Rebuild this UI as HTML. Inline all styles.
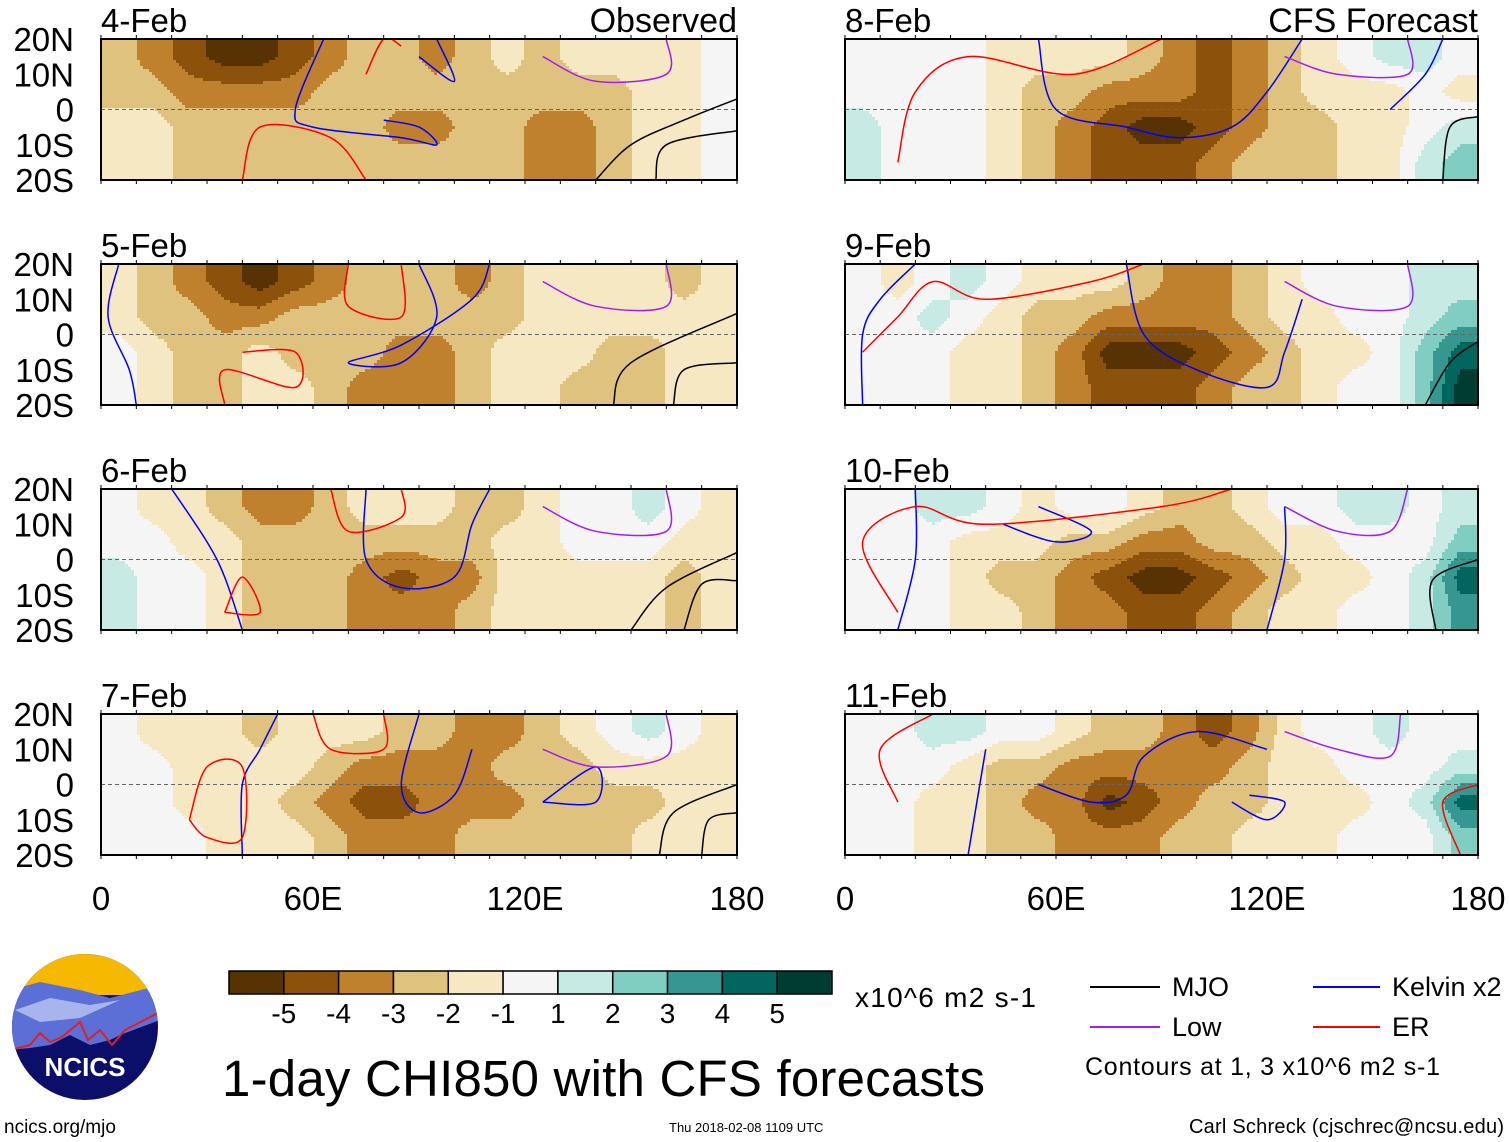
<!DOCTYPE html>
<html><head><meta charset="utf-8"><style>
body{margin:0;background:#fff;width:1510px;height:1142px;overflow:hidden;font-family:"Liberation Sans",sans-serif}
svg{position:absolute;left:0;top:0}
</style></head><body>
<svg id="chart" width="1510" height="1142" viewBox="0 0 1510 1142">
<g id="panels"></g>
<g id="cbar"></g>
<text x="855" y="1007" font-size="28" textLength="181">x10^6 m2 s-1</text>
<g font-size="27">
<line x1="1090" y1="987" x2="1160" y2="987" stroke="#000" stroke-width="2"/>
<text x="1172" y="996">MJO</text>
<line x1="1313" y1="987" x2="1380" y2="987" stroke="#0000ff" stroke-width="2"/>
<text x="1392" y="996">Kelvin x2</text>
<line x1="1090" y1="1027" x2="1160" y2="1027" stroke="#a020f0" stroke-width="2"/>
<text x="1172" y="1036">Low</text>
<line x1="1313" y1="1027" x2="1380" y2="1027" stroke="#ff0000" stroke-width="2"/>
<text x="1392" y="1036">ER</text>
<text x="1085" y="1075" font-size="25" textLength="355">Contours at 1, 3 x10^6 m2 s-1</text>
</g>
<text x="222" y="1096" font-size="51" textLength="763">1-day CHI850 with CFS forecasts</text>
<text x="4" y="1133" font-size="19">ncics.org/mjo</text>
<text x="669" y="1132" font-size="13">Thu 2018-02-08 1109 UTC</text>
<text x="1504" y="1133" font-size="20" text-anchor="end" textLength="315">Carl Schreck (cjschrec@ncsu.edu)</text>
<g>
<clipPath id="lc"><circle cx="85" cy="1027" r="73"/></clipPath>
<g clip-path="url(#lc)">
<rect x="10" y="950" width="150" height="160" fill="#0b0f6a"/>
<rect x="10" y="950" width="150" height="45" fill="#f6b800"/>
<path d="M10 990 L40 982 L80 990 L110 998 L160 985 L160 1020 L120 1035 L110 1040 L90 1045 L70 1035 L50 1045 L30 1048 L10 1050Z" fill="#5b6fd6"/>
<path d="M15 1010 L50 998 L90 1005 L120 1000 L80 1018 L40 1022Z" fill="#a8b4ec"/>
<path d="M10 1050 L30 1045 L40 1033 L50 1042 L62 1037 L80 1022 L88 1040 L100 1030 L112 1045 L125 1030 L160 1012" fill="none" stroke="#e02020" stroke-width="2"/>
</g>
<text x="85" y="1076" font-size="26" font-weight="bold" fill="#fff" text-anchor="middle">NCICS</text>
</g>
</svg>
<script>
const panelDates=['4-Feb','5-Feb','6-Feb','7-Feb','8-Feb','9-Feb','10-Feb','11-Feb'];
const latLabels=['20N','10N','0','10S','20S'];
const lonLabels=['0','60E','120E','180'];
const cbarLabels=['-5','-4','-3','-2','-1','1','2','3','4','5'];
const grid4=[[-2,-3,-4,-5,-5,-4,-3,-2,-2,-3,-2,-1,-2,-1,-1,-1,-1,0],[-2,-2,-3,-3,-3,-3,-2,-2,-2,-2,-2,-2,-2,-2,-2,-1,-1,0],[-1,-1,-2,-2,-2,-2,-2,-2,-3,-3,-2,-2,-3,-3,-2,-1,-1,0],[-1,-1,-2,-2,-2,-2,-2,-2,-2,-2,-2,-2,-3,-3,-2,-1,-1,0]];
const grid5=[[-1,-2,-3,-4,-5,-4,-3,-2,-2,-2,-3,-2,-1,-1,-1,-1,-2,-1],[-1,-2,-2,-3,-3,-2,-2,-2,-2,-2,-2,-2,-1,-1,-1,-1,-1,-1],[0,-1,-2,-2,-1,-2,-2,-2,-3,-3,-2,-1,-1,-1,-2,-2,-1,-1],[0,-1,-2,-2,-1,-1,-2,-3,-3,-3,-2,-1,-1,-2,-2,-2,-1,-1]];
const grid6=[[0,-1,-1,-2,-3,-3,-2,-1,-1,-1,-2,-2,-1,0,0,1,0,-1],[0,0,-1,-1,-2,-2,-2,-2,-2,-2,-2,-1,-1,0,0,0,-1,-1],[1,0,0,-1,-2,-2,-2,-3,-4,-3,-3,-1,-1,-1,-1,-1,-2,-1],[1,0,0,-1,-2,-2,-2,-3,-3,-3,-2,-1,-1,-1,-1,-1,-2,-1]];
const grid7=[[0,-1,-1,-1,-2,-1,-1,-1,-2,-2,-3,-3,-2,-1,0,1,0,-1],[0,0,-1,-1,-1,-1,-2,-3,-3,-3,-3,-2,-2,-2,-1,-1,-1,-1],[0,0,-1,-1,-1,-2,-3,-4,-4,-3,-3,-3,-2,-2,-2,-2,-1,-1],[0,0,0,-1,-1,-1,-2,-3,-3,-3,-2,-2,-2,-2,-2,-1,-1,-1]];
const grid8=[[0,0,0,0,-1,-1,-1,-1,-2,-3,-4,-3,-2,-1,0,1,1,0],[0,0,0,0,-1,-2,-2,-3,-3,-3,-4,-3,-2,-1,-1,-1,0,-1],[1,0,0,0,-1,-2,-3,-4,-5,-5,-4,-3,-2,-2,-1,-1,0,1],[1,0,0,0,-1,-2,-3,-4,-4,-4,-3,-2,-2,-2,-1,-1,1,2]];
const grid9=[[0,-1,0,1,0,-1,-1,-1,-2,-3,-3,-2,-1,0,0,0,1,1],[0,0,1,0,-1,-2,-2,-3,-3,-3,-3,-2,-1,-1,0,0,1,2],[0,0,0,-1,-1,-2,-3,-5,-5,-5,-4,-3,-2,-1,-1,0,2,4],[0,0,0,-1,-1,-2,-3,-4,-4,-4,-3,-2,-2,-1,0,0,2,5]];
const grid10=[[0,0,1,1,0,-1,0,0,-1,-2,-2,-1,0,0,1,1,0,1],[0,0,0,-1,-1,-1,-2,-2,-3,-3,-2,-2,-1,-1,0,0,0,2],[0,0,0,-1,-2,-2,-3,-4,-5,-5,-4,-3,-2,-1,-1,0,1,4],[0,0,0,-1,-1,-2,-3,-3,-4,-4,-3,-2,-1,-1,0,0,1,3]];
const grid11=[[0,0,1,1,0,0,-1,-2,-2,-3,-4,-3,-1,0,0,1,0,0],[0,0,0,-1,-2,-2,-3,-3,-3,-3,-3,-2,-1,-1,0,0,0,1],[0,0,-1,-1,-2,-3,-3,-5,-4,-3,-2,-2,-1,-1,-1,0,1,4],[0,0,-1,-1,-2,-2,-3,-3,-3,-2,-2,-1,-1,-1,0,0,0,2]];
const grids=[grid4,grid5,grid6,grid7,grid8,grid9,grid10,grid11];
const contourMJO=[[0,[[140,-20],[150,-10],[165,-3],[180,3]]],[0,[[157,-20],[160,-10],[180,-6]]],[1,[[145,-20],[150,-8],[180,6]]],[1,[[162,-20],[165,-10],[180,-8]]],[2,[[150,-20],[160,-8],[180,2]]],[2,[[165,-20],[170,-7],[180,-6]]],[3,[[158,-20],[162,-8],[180,0]]],[3,[[170,-20],[172,-10],[180,-8]]],[4,[[170,-20],[172,-5],[180,-2]]],[5,[[165,-20],[172,-8],[180,-2]]],[6,[[168,-20],[167,-6],[180,0]]]];
const contourKelvin=[[0,[[63,20],[55,0],[60,-5],[85,-8],[95,-10],[90,-5],[80,-3]]],[0,[[90,15],[100,8],[95,20]]],[1,[[90,20],[95,5],[85,-8],[70,-8],[85,-3],[105,10],[110,20]]],[1,[[5,20],[2,5],[8,-10],[10,-20]]],[2,[[20,20],[30,5],[35,-5],[40,-20]]],[2,[[75,20],[75,0],[85,-8],[100,-5],[105,10],[110,20]]],[3,[[40,-20],[40,0],[45,10],[50,20]]],[3,[[90,20],[85,0],[90,-8],[100,-3],[105,10]]],[3,[[125,-5],[140,5],[140,-5],[125,-5]]],[4,[[55,20],[60,0],[80,-5],[95,-8],[110,-5],[120,5],[130,20]]],[4,[[155,0],[165,10],[170,20]]],[5,[[5,-20],[5,0],[10,10],[20,20]]],[5,[[80,20],[85,0],[100,-10],[120,-15],[125,-5],[130,10]]],[6,[[15,-20],[20,0],[20,20]]],[6,[[45,10],[60,5],[70,8],[55,15]]],[6,[[120,-20],[125,0],[125,15]]],[7,[[35,-20],[40,10]]],[7,[[55,0],[70,-5],[80,-3],[85,8],[100,15],[120,10]]],[7,[[110,-5],[120,-10],[125,-5],[115,-3]]]];
const contourER=[[0,[[40,-20],[45,-5],[65,-8],[75,-20]]],[0,[[75,10],[80,20],[85,18]]],[1,[[35,-20],[35,-10],[55,-15],[55,-5],[40,-5]]],[1,[[70,20],[70,8],[85,5],[85,20]]],[2,[[35,-15],[40,-5],[45,-15],[35,-15]]],[2,[[65,20],[70,8],[85,12],[85,20]]],[3,[[25,-10],[30,5],[40,5],[40,-15],[30,-15],[25,-10]]],[3,[[60,20],[65,10],[80,10],[80,20]]],[4,[[15,-15],[20,5],[35,15],[65,10],[90,20]]],[5,[[5,-5],[15,5],[25,15],[40,10],[70,15],[85,20]]],[6,[[15,-15],[5,5],[20,15],[40,10],[90,15],[110,20]]],[7,[[15,-5],[10,10],[25,20]]],[7,[[175,-20],[170,-5],[180,0]]]];
const contourLow=[[0,[[125,15],[140,8],[160,10],[160,20]]],[1,[[125,15],[140,8],[160,8],[160,20]]],[2,[[125,15],[140,8],[160,8],[160,20]]],[3,[[125,10],[140,5],[160,8],[160,20]]],[4,[[125,15],[140,10],[160,10],[160,20]]],[5,[[125,15],[140,8],[160,8],[160,20]]],[6,[[125,15],[140,8],[155,8],[160,20]]],[7,[[125,15],[140,10],[155,8],[158,20]]]];
const colors={'-5':'#573203','-4':'#8c510a','-3':'#bf812d','-2':'#dfc27d','-1':'#f6e8c3','0':'#f5f5f5','1':'#c7eae5','2':'#80cdc1','3':'#35978f','4':'#01665e','5':'#003c30'};
const NS='http://www.w3.org/2000/svg';
const panelsG=document.getElementById('panels');
function mk(t,a,p){const e=document.createElementNS(NS,t);for(const k in a)e.setAttribute(k,a[k]);p.appendChild(e);return e;}
const PH=141,tops=[39,264,489,714];
function geo(i){const right=i>=4;return{x0:right?845:101,w:right?633:636,y0:tops[i%4]};}
function xS(g,lon){return g.x0+lon/180*g.w;}
function yS(g,lat){return g.y0+(20-lat)/40*PH;}
function sample(G,lon,lat){
 // cell centres at lon=5+10c, lat=15-10r
 let cf=(lon-5)/10, rf=(15-lat)/10;
 cf=Math.max(0,Math.min(17,cf)); rf=Math.max(0,Math.min(3,rf));
 const c0=Math.min(16,Math.floor(cf)), r0=Math.min(2,Math.floor(rf));
 const tx=cf-c0, ty=rf-r0;
 const a=G[r0][c0],b=G[r0][c0+1],c=G[r0+1][c0],d=G[r0+1][c0+1];
 return (a*(1-tx)+b*tx)*(1-ty)+(c*(1-tx)+d*tx)*ty;
}
function level(v){let k=Math.round(v);return Math.max(-5,Math.min(5,k));}
function smooth(P){
 let d='M'+P[0][0].toFixed(1)+' '+P[0][1].toFixed(1);
 for(let k=0;k<P.length-1;k++){
  const p0=P[Math.max(k-1,0)],p1=P[k],p2=P[k+1],p3=P[Math.min(k+2,P.length-1)];
  const c1=[p1[0]+(p2[0]-p0[0])/6,p1[1]+(p2[1]-p0[1])/6],c2=[p2[0]-(p3[0]-p1[0])/6,p2[1]-(p3[1]-p1[1])/6];
  d+=' C'+c1.map(v=>v.toFixed(1)).join(' ')+' '+c2.map(v=>v.toFixed(1)).join(' ')+' '+p2.map(v=>v.toFixed(1)).join(' ');
 }
 return d;
}
const S=3;
for(let i=0;i<8;i++){
 const g=geo(i);
 const pg=mk('g',{},panelsG);
 
 
 const cp=mk('clipPath',{id:'c'+i},pg);
 mk('rect',{x:g.x0,y:g.y0,width:g.w,height:PH},cp);
 const cg=mk('g',{'clip-path':'url(#c'+i+')'},pg);
 const hg=mk('g',{'shape-rendering':'crispEdges'},cg);
 
 
 const G=grids[i];
 for(let py=0;py<PH;py+=S){
  const lat=20-(py+S/2)/PH*40;
  let runStart=0,runLev=null;
  const nx=Math.ceil(g.w/S);
  for(let ix=0;ix<=nx;ix++){
   let lev=null;
   if(ix<nx){const lon=(ix*S+S/2)/g.w*180;lev=level(sample(G,lon,lat));}
   if(lev!==runLev){
    if(runLev!==null){
     const cell=mk('rect',{x:g.x0+runStart*S,y:g.y0+py,width:(ix-runStart)*S+0.5,height:S+0.5,fill:colors[runLev]},hg);
    }
    runStart=ix;runLev=lev;
   }
  }
 }
 mk('line',{x1:g.x0,x2:g.x0+g.w,y1:yS(g,0),y2:yS(g,0),stroke:'#666','stroke-dasharray':'4,3','stroke-width':1},cg);
 const sets=[[contourMJO,'#000'],[contourKelvin,'#0000ff'],[contourER,'#ff0000'],[contourLow,'#a020f0']];
 sets.forEach(([set,col])=>set.forEach(([p,pts])=>{
  if(p!==i)return;
  const P=pts.map(q=>[xS(g,q[0]),yS(g,q[1])]);
  const pl=mk('path',{d:smooth(P),fill:'none',stroke:col,'stroke-width':1.5,'stroke-linejoin':'round'},cg);
  
  
 }));
 mk('rect',{x:g.x0,y:g.y0,width:g.w,height:PH,fill:'none',stroke:'#000','stroke-width':2},pg);
 for(let lon=0;lon<=180;lon+=10){const x=xS(g,lon);mk('line',{x1:x,x2:x,y1:g.y0-4,y2:g.y0,stroke:'#000'},pg);mk('line',{x1:x,x2:x,y1:g.y0+PH,y2:g.y0+PH+4,stroke:'#000'},pg);}
 const t=mk('text',{x:g.x0,y:g.y0-7,'font-size':33},pg);t.textContent=panelDates[i];
 
 
 if(i===0||i===4){const s=mk('text',{x:g.x0+g.w,y:g.y0-7,'font-size':34,'text-anchor':'end'},pg);s.textContent=i===0?'Observed':'CFS Forecast';
  
  }
 if(i<4){latLabels.forEach((L,k)=>{const lt=mk('text',{x:74,y:g.y0+k*PH/4+12,'font-size':33,'text-anchor':'end'},pg);lt.textContent=L;
  
  });}
 if(i%4===3){lonLabels.forEach((L,k)=>{const lx=mk('text',{x:xS(g,k*60),y:910,'font-size':33,'text-anchor':'middle'},pg);lx.textContent=L;
  
  });}
}
const cb=document.getElementById('cbar');
const keys=['-5','-4','-3','-2','-1','0','1','2','3','4','5'];
const bw=603/11;
keys.forEach((k,j)=>{const r=mk('rect',{x:229+j*bw,y:971,width:bw,height:23,fill:colors[k],stroke:'#000','stroke-width':1.5},cb);
 
 });
cbarLabels.forEach((L,j)=>{const t=mk('text',{x:229+(j+1)*bw,y:1023,'font-size':28,'text-anchor':'middle'},cb);t.textContent=L;
 
 });
</script>
</body></html>
